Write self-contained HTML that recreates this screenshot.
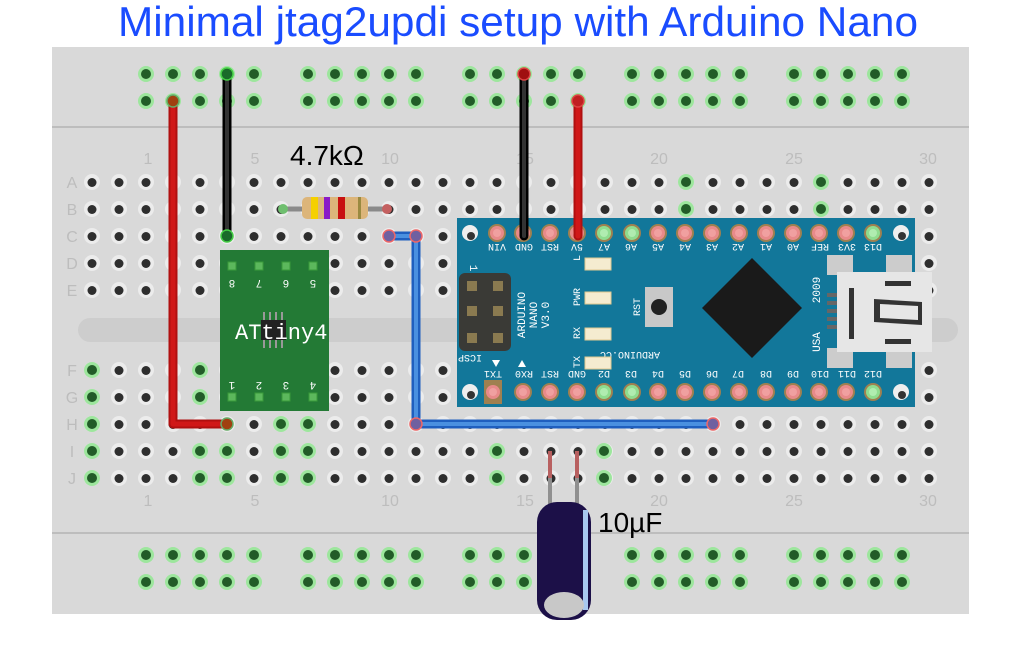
<!DOCTYPE html>
<html><head><meta charset="utf-8"><style>
html,body{margin:0;padding:0;background:#fff;}
svg{display:block;font-family:"Liberation Sans",sans-serif;}
</style></head><body>
<svg width="1027" height="662" viewBox="0 0 1027 662" xmlns="http://www.w3.org/2000/svg">
<defs>
<clipPath id="chipclip"><rect x="220" y="250" width="108" height="161"/></clipPath>
<pattern id="hb" x="78.5" y="168.5" width="27" height="27" patternUnits="userSpaceOnUse">
<circle cx="13.5" cy="13.5" r="8" fill="#ececec"/><circle cx="13.5" cy="14" r="4.5" fill="#2e2e2e"/>
</pattern>
<pattern id="hb2" x="78.5" y="356.5" width="27" height="27" patternUnits="userSpaceOnUse">
<circle cx="13.5" cy="13.5" r="8" fill="#ececec"/><circle cx="13.5" cy="14" r="4.5" fill="#2e2e2e"/>
</pattern>
<pattern id="gt" x="132.5" y="60.5" width="27" height="27" patternUnits="userSpaceOnUse">
<circle cx="13.5" cy="13.5" r="8" fill="#9de69d"/><circle cx="13.5" cy="13.5" r="5" fill="#225c28"/>
</pattern>
<pattern id="gb" x="132.5" y="541.5" width="27" height="27" patternUnits="userSpaceOnUse">
<circle cx="13.5" cy="13.5" r="8" fill="#9de69d"/><circle cx="13.5" cy="13.5" r="5" fill="#225c28"/>
</pattern>
<g id="g"><circle r="8" fill="#9de69d"/><circle r="5" fill="#225c28"/></g>
<g id="pr"><circle r="9" fill="#a08050"/><circle r="7" fill="#e88a8a"/><circle r="4" fill="#f0a0a0"/></g>
<g id="pg"><circle r="9" fill="#a08050"/><circle r="7" fill="#8fdc8f"/><circle r="4" fill="#b0ecb0"/></g>
</defs>

<text x="518" y="36" text-anchor="middle" font-size="42" fill="#1a4cff" textLength="800" lengthAdjust="spacingAndGlyphs">Minimal jtag2updi setup with Arduino Nano</text>

<rect x="52" y="47" width="917" height="567" fill="#d9d9d9"/>
<line x1="52" y1="127" x2="969" y2="127" stroke="#bdbdbd" stroke-width="2"/>
<line x1="52" y1="533" x2="969" y2="533" stroke="#bdbdbd" stroke-width="2"/>
<rect x="78" y="318" width="880" height="24" rx="12" fill="#cdcdcd"/>

<g fill="url(#gt)">
<rect x="132.5" y="60.5" width="135" height="54"/><rect x="294.5" y="60.5" width="135" height="54"/>
<rect x="456.5" y="60.5" width="135" height="54"/><rect x="618.5" y="60.5" width="135" height="54"/>
<rect x="780.5" y="60.5" width="135" height="54"/>
</g>
<g fill="url(#gb)">
<rect x="132.5" y="541.5" width="135" height="54"/><rect x="294.5" y="541.5" width="135" height="54"/>
<rect x="456.5" y="541.5" width="135" height="54"/><rect x="618.5" y="541.5" width="135" height="54"/>
<rect x="780.5" y="541.5" width="135" height="54"/>
</g>

<rect x="78.5" y="168.5" width="864" height="135" fill="url(#hb)"/>
<rect x="78.5" y="356.5" width="864" height="135" fill="url(#hb2)"/>

<use href="#g" x="686" y="182"/><use href="#g" x="686" y="209"/>
<use href="#g" x="821" y="182"/><use href="#g" x="821" y="209"/>
<g>
<use href="#g" x="92" y="370"/><use href="#g" x="92" y="397"/><use href="#g" x="92" y="424"/><use href="#g" x="92" y="451"/><use href="#g" x="92" y="478"/>
<use href="#g" x="200" y="370"/><use href="#g" x="200" y="397"/><use href="#g" x="200" y="451"/><use href="#g" x="200" y="478"/>
<use href="#g" x="227" y="451"/><use href="#g" x="227" y="478"/>
<use href="#g" x="281" y="424"/><use href="#g" x="281" y="451"/><use href="#g" x="281" y="478"/>
<use href="#g" x="308" y="424"/><use href="#g" x="308" y="451"/><use href="#g" x="308" y="478"/>
<use href="#g" x="497" y="451"/><use href="#g" x="497" y="478"/>
<use href="#g" x="604" y="451"/><use href="#g" x="604" y="478"/>
</g>

<g fill="#bdbdbd" font-size="16" text-anchor="middle">
<text x="148" y="164">1</text><text x="255" y="164">5</text><text x="390" y="164">10</text><text x="525" y="164">15</text><text x="659" y="164">20</text><text x="794" y="164">25</text><text x="928" y="164">30</text>
<text x="148" y="506">1</text><text x="255" y="506">5</text><text x="390" y="506">10</text><text x="525" y="506">15</text><text x="659" y="506">20</text><text x="794" y="506">25</text><text x="928" y="506">30</text>
<text x="72" y="188">A</text><text x="72" y="215">B</text><text x="72" y="242">C</text><text x="72" y="269">D</text><text x="72" y="296">E</text>
<text x="72" y="376">F</text><text x="72" y="403">G</text><text x="72" y="430">H</text><text x="72" y="457">I</text><text x="72" y="484">J</text>
</g>

<!-- ATtiny -->
<rect x="220" y="250" width="109" height="161" fill="#237a35"/>
<g fill="#5cb85c" stroke="#3a9a3a"><rect x="228" y="262" width="8" height="8"/><rect x="255" y="262" width="8" height="8"/><rect x="282" y="262" width="8" height="8"/><rect x="309" y="262" width="8" height="8"/>
<rect x="228" y="393" width="8" height="8"/><rect x="255" y="393" width="8" height="8"/><rect x="282" y="393" width="8" height="8"/><rect x="309" y="393" width="8" height="8"/></g>
<g fill="#fff" font-size="11" font-family="Liberation Mono,monospace" text-anchor="middle">
<text transform="translate(232,280) rotate(180)">8</text><text transform="translate(259,280) rotate(180)">7</text><text transform="translate(286,280) rotate(180)">6</text><text transform="translate(313,280) rotate(180)">5</text>
<text transform="translate(232,382) rotate(180)">1</text><text transform="translate(259,382) rotate(180)">2</text><text transform="translate(286,382) rotate(180)">3</text><text transform="translate(313,382) rotate(180)">4</text>
</g>
<g fill="#999"><rect x="263" y="312" width="2" height="36"/><rect x="269" y="312" width="2" height="36"/><rect x="275" y="312" width="2" height="36"/><rect x="281" y="312" width="2" height="36"/></g>
<rect x="261" y="320" width="25" height="20" fill="#222"/>
<text x="235" y="339" fill="#fff" font-size="22" font-family="Liberation Mono,monospace" clip-path="url(#chipclip)">ATtiny40</text>

<!-- Arduino -->
<rect x="457" y="218" width="458" height="189" fill="#12779a"/>
<circle cx="470" cy="233" r="8" fill="#eee"/><circle cx="471" cy="236" r="4" fill="#333"/>
<circle cx="901" cy="233" r="8" fill="#eee"/><circle cx="902" cy="236" r="4" fill="#333"/>
<circle cx="470" cy="392" r="8" fill="#eee"/><circle cx="471" cy="395" r="4" fill="#333"/>
<circle cx="901" cy="392" r="8" fill="#eee"/><circle cx="902" cy="395" r="4" fill="#333"/>
<g>
<use href="#pr" x="497" y="233"/><use href="#pr" x="523" y="233"/><use href="#pr" x="550" y="233"/><use href="#pr" x="577" y="233"/><use href="#pg" x="604" y="233"/><use href="#pg" x="632" y="233"/><use href="#pr" x="658" y="233"/><use href="#pr" x="685" y="233"/><use href="#pr" x="712" y="233"/><use href="#pr" x="739" y="233"/><use href="#pr" x="766" y="233"/><use href="#pr" x="793" y="233"/><use href="#pr" x="819" y="233"/><use href="#pr" x="846" y="233"/><use href="#pg" x="873" y="233"/>
<rect x="484" y="380" width="18" height="24" fill="#a08050"/>
<use href="#pr" x="493" y="392"/><use href="#pr" x="523" y="392"/><use href="#pr" x="550" y="392"/><use href="#pr" x="577" y="392"/><use href="#pg" x="604" y="392"/><use href="#pg" x="632" y="392"/><use href="#pr" x="658" y="392"/><use href="#pr" x="685" y="392"/><use href="#pr" x="712" y="392"/><use href="#pr" x="739" y="392"/><use href="#pr" x="766" y="392"/><use href="#pr" x="793" y="392"/><use href="#pr" x="819" y="392"/><use href="#pr" x="846" y="392"/><use href="#pg" x="873" y="392"/>
</g>
<g fill="#fff" font-size="10" font-family="Liberation Mono,monospace" text-anchor="middle">
<g transform="rotate(180 685 248)">
<text x="873" y="252">VIN</text><text x="846" y="252">GND</text><text x="820" y="252">RST</text><text x="793" y="252">5V</text><text x="766" y="252">A7</text><text x="739" y="252">A6</text><text x="712" y="252">A5</text><text x="685" y="252">A4</text><text x="658" y="252">A3</text><text x="632" y="252">A2</text><text x="604" y="252">A1</text><text x="577" y="252">A0</text><text x="550" y="252">REF</text><text x="523" y="252">3V3</text><text x="497" y="252">D13</text>
</g>
<g transform="rotate(180 685 375)">
<text x="877" y="379">TX1</text><text x="846" y="379">RX0</text><text x="820" y="379">RST</text><text x="793" y="379">GND</text><text x="766" y="379">D2</text><text x="739" y="379">D3</text><text x="712" y="379">D4</text><text x="685" y="379">D5</text><text x="658" y="379">D6</text><text x="632" y="379">D7</text><text x="604" y="379">D8</text><text x="577" y="379">D9</text><text x="550" y="379">D10</text><text x="523" y="379">D11</text><text x="497" y="379">D12</text>
</g>
<text transform="translate(525,315) rotate(-90)" font-size="11">ARDUINO</text>
<text transform="translate(537,315) rotate(-90)" font-size="11">NANO</text>
<text transform="translate(549,315) rotate(-90)" font-size="11">V3.0</text>
<text transform="translate(630,352) rotate(180)">ARDUINO.CC</text>
<text transform="translate(640,307) rotate(-90)">RST</text>
<text transform="translate(820,290) rotate(-90)" font-size="11">2009</text>
<text transform="translate(820,342) rotate(-90)" font-size="11">USA</text>
<text transform="translate(580,258) rotate(-90)">L</text>
<text transform="translate(580,297) rotate(-90)">PWR</text>
<text transform="translate(580,333) rotate(-90)">RX</text>
<text transform="translate(580,362) rotate(-90)">TX</text>
<text transform="translate(470,355) rotate(180)">ICSP</text>
<text transform="translate(470,268) rotate(90)" font-size="11">1</text>
</g>
<g fill="#fff"><polygon points="492,360 500,360 496,367"/><polygon points="518,367 526,367 522,360"/></g>
<g fill="#f5ecd0" stroke="#e0c890"><rect x="585" y="258" width="26" height="12"/><rect x="585" y="292" width="26" height="12"/><rect x="585" y="328" width="26" height="12"/><rect x="585" y="357" width="26" height="12"/></g>
<rect x="459" y="273" width="52" height="78" rx="6" fill="#3a3a36"/>
<g fill="#8a7a50"><rect x="467" y="281" width="10" height="10"/><rect x="493" y="281" width="10" height="10"/><rect x="467" y="306" width="10" height="10"/><rect x="493" y="306" width="10" height="10"/><rect x="467" y="333" width="10" height="10"/><rect x="493" y="333" width="10" height="10"/></g>
<rect x="645" y="287" width="28" height="40" fill="#c8c8c8"/><circle cx="659" cy="307" r="8" fill="#222"/>
<polygon points="752,258 802,308 752,358 702,308" fill="#1a1a1a"/>
<g fill="#ccc"><rect x="827" y="255" width="26" height="20"/><rect x="886" y="255" width="26" height="20"/><rect x="827" y="348" width="26" height="20"/><rect x="886" y="348" width="26" height="20"/></g>
<g fill="#666"><rect x="827" y="293" width="10" height="4"/><rect x="827" y="301" width="10" height="4"/><rect x="827" y="309" width="10" height="4"/><rect x="827" y="317" width="10" height="4"/><rect x="827" y="325" width="10" height="4"/></g>
<rect x="837" y="272" width="95" height="80" fill="#e6e6e6"/>
<g fill="#333"><rect x="849" y="288" width="5" height="51"/><rect x="885" y="281" width="26" height="5"/><rect x="885" y="339" width="26" height="5"/><polygon points="874,299 922,302 922,325 874,322"/></g>
<polygon points="880,304 918,306 918,320 880,318" fill="#e6e6e6"/>

<!-- resistor -->
<line x1="282" y1="209" x2="388" y2="209" stroke="#8a8a8a" stroke-width="5"/>
<circle cx="283" cy="209" r="5" fill="#6fbf6f"/><circle cx="387" cy="209" r="5" fill="#c46060"/>
<rect x="302" y="197" width="66" height="22" rx="5" fill="#dcb57a"/>
<rect x="311" y="197" width="7" height="22" fill="#f5d000"/><rect x="324" y="197" width="6" height="22" fill="#8a1ac8"/><rect x="338" y="197" width="7" height="22" fill="#c81010"/><rect x="358" y="197" width="3" height="22" fill="#9a8a40"/>
<text x="290" y="165" font-size="28" fill="#000">4.7kΩ</text>

<!-- wires -->
<g fill="none" stroke-linecap="round" stroke-linejoin="round">
<polyline points="173,101 173,424 227,424" stroke="#b01010" stroke-width="9"/>
<polyline points="173,101 173,424 227,424" stroke="#d01818" stroke-width="5"/>
<line x1="227" y1="74" x2="227" y2="236" stroke="#000" stroke-width="9"/><line x1="227" y1="74" x2="227" y2="236" stroke="#333" stroke-width="4"/>
<line x1="524" y1="74" x2="524" y2="236" stroke="#000" stroke-width="9"/><line x1="524" y1="74" x2="524" y2="236" stroke="#333" stroke-width="4"/>
<line x1="578" y1="101" x2="578" y2="236" stroke="#b01010" stroke-width="9"/><line x1="578" y1="101" x2="578" y2="236" stroke="#d01818" stroke-width="5"/>
<polyline points="389,236 416,236 416,424 713,424" stroke="#1f5fbf" stroke-width="9"/>
<polyline points="389,236 416,236 416,424 713,424" stroke="#4a90e0" stroke-width="4"/>
</g>
<circle cx="227" cy="74" r="6" fill="#1a6a2a" stroke="#4c4" stroke-width="1.5"/>
<circle cx="227" cy="236" r="6" fill="#1a6a2a" stroke="#4c4" stroke-width="1.5"/>
<circle cx="173" cy="101" r="6" fill="#a04010" stroke="#6a6" stroke-width="1.5"/>
<circle cx="524" cy="74" r="6" fill="#a01010" stroke="#d44" stroke-width="1.5"/>
<circle cx="578" cy="101" r="6" fill="#c02020" stroke="#d44" stroke-width="1.5"/>
<circle cx="227" cy="424" r="6" fill="#a04010" stroke="#6a6" stroke-width="1.5"/>
<circle cx="389" cy="236" r="6" fill="#7060a0" stroke="#e66" stroke-width="1.5"/>
<circle cx="416" cy="236" r="6" fill="#7060a0" stroke="#e66" stroke-width="1.5"/>
<circle cx="416" cy="424" r="6" fill="#7060a0" stroke="#e66" stroke-width="1.5"/>
<circle cx="713" cy="424" r="6" fill="#7060a0" stroke="#e66" stroke-width="1.5"/>

<!-- capacitor -->
<line x1="550" y1="451" x2="550" y2="510" stroke="#909090" stroke-width="4"/>
<line x1="577" y1="451" x2="577" y2="510" stroke="#909090" stroke-width="4"/>
<line x1="550" y1="451" x2="550" y2="478" stroke="#b86060" stroke-width="4"/>
<line x1="577" y1="451" x2="577" y2="478" stroke="#b86060" stroke-width="4"/>
<rect x="537" y="502" width="54" height="118" rx="20" fill="#1c1048"/>
<rect x="583" y="510" width="5" height="100" fill="#a8c8f0"/>
<ellipse cx="564" cy="605" rx="20" ry="13" fill="#c8c8c8"/>
<text x="598" y="532" font-size="28" fill="#000">10µF</text>
</svg>
</body></html>
